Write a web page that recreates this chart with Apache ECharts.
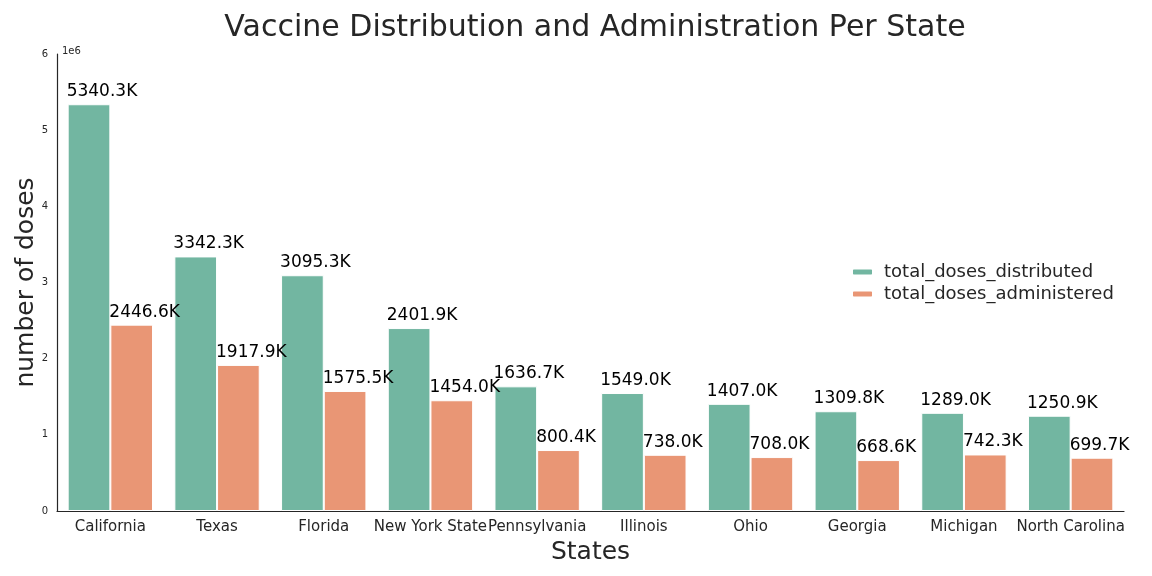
<!DOCTYPE html>
<html><head><meta charset="utf-8">
<script src="https://cdn.jsdelivr.net/npm/echarts@6/dist/echarts.min.js"></script>
<style>html,body{margin:0;padding:0;background:#fff}#c{width:1152px;height:576px}</style>
</head><body><div id="c"></div>
<script>
const states = ["California","Texas","Florida","New York State","Pennsylvania","Illinois","Ohio","Georgia","Michigan","North Carolina"];
const distributed = [5340300,3342300,3095300,2401900,1636700,1549000,1407000,1309800,1289000,1250900];
const administered = [2446600,1917900,1575500,1454000,800400,738000,708000,668600,742300,699700];
const yTicks = [0,1,2,3,4,5,6];

const F = "DejaVu Sans";
const chart = echarts.init(document.getElementById('c'), null, {renderer:'canvas'});
const lbl = {
  show:true, position:[-1,-4], align:'left', verticalAlign:'bottom',
  fontFamily:F, fontSize:17, color:'#000',
  formatter: p => (p.value/1000).toFixed(1) + 'K'
};
chart.setOption({
  animation:false,
  textStyle:{fontFamily:F},
  title:[
    {text:'Vaccine Distribution and Administration Per State', left:590, textAlign:'center', top:8,
     textStyle:{fontFamily:F, fontSize:30, fontWeight:'normal', color:'#262626'}},
    {text:'1e6', left:57, top:41, textStyle:{fontFamily:F, fontSize:10, fontWeight:'normal', color:'#262626'}}
  ],
  legend:{
    orient:'vertical', left:846, top:258, itemWidth:21, itemHeight:7, itemGap:4,
    textStyle:{fontFamily:F, fontSize:18, color:'#262626', padding:[0,0,0,6]},
    data:['total_doses_distributed','total_doses_administered']
  },
  grid:{left:57, right:28, top:54, bottom:65, outerBoundsMode:'none', containLabel:false},
  xAxis:{
    type:'category', data:states,
    name:'States', nameLocation:'middle', nameGap:26,
    nameTextStyle:{fontFamily:F, fontSize:25, color:'#262626'},
    axisLine:{lineStyle:{color:'#262626', width:1.2}},
    axisTick:{show:false},
    axisLabel:{fontFamily:F, fontSize:15, color:'#262626', interval:0, margin:9}
  },
  yAxis:{
    type:'value', min:0, max:6e6, interval:1e6,
    name:'number of doses', nameLocation:'middle', nameGap:18, nameMoveOverlap:false,
    nameTextStyle:{fontFamily:F, fontSize:25, color:'#262626'},
    axisLine:{show:true, lineStyle:{color:'#262626', width:1.2}},
    axisTick:{show:false},
    splitLine:{show:false},
    axisLabel:{fontFamily:F, fontSize:10, color:'#262626', margin:9,
      formatter: v => String(yTicks[Math.round(v/1e6)])}
  },
  series:[
    {name:'total_doses_distributed', type:'bar', data:distributed, barGap:'0%', barCategoryGap:'20%',
     itemStyle:{color:'#72b6a1', borderColor:'#fff', borderWidth:1}, label:lbl},
    {name:'total_doses_administered', type:'bar', data:administered, barGap:'0%', barCategoryGap:'20%',
     itemStyle:{color:'#e99675', borderColor:'#fff', borderWidth:1}, label:lbl}
  ]
});
</script></body></html>
